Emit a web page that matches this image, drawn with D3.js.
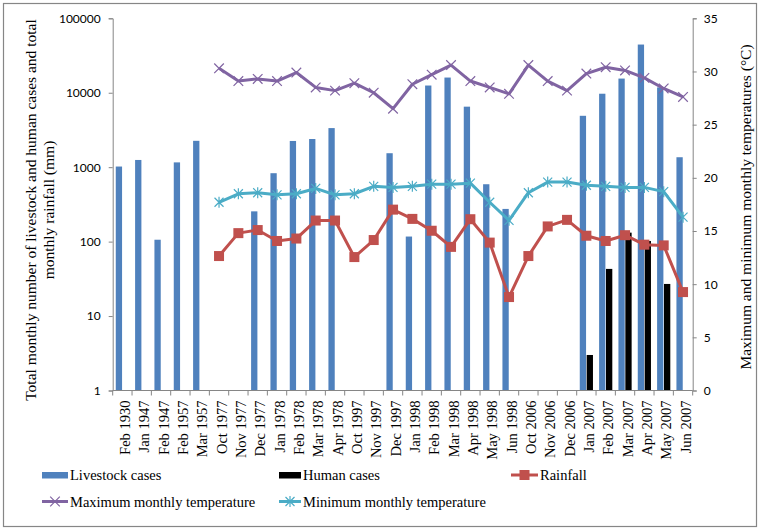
<!DOCTYPE html>
<html>
<head>
<meta charset="utf-8">
<script src="https://cdn.jsdelivr.net/npm/d3@7"></script>
<style>
  html, body { margin: 0; padding: 0; background: #fff; }
  svg { display: block; }
</style>
</head>
<body>
<svg id="chart" width="760" height="532"></svg>
<script>
// ---- data ----
const categories = ["Feb 1930","Jan 1947","Feb 1947","Feb 1957","Mar 1957","Oct 1977","Nov 1977","Dec 1977","Jan 1978","Feb 1978","Mar 1978","Apr 1978","Oct 1997","Nov 1997","Dec 1997","Jan 1998","Feb 1998","Mar 1998","Apr 1998","May 1998","Jun 1998","Oct 2006","Nov 2006","Dec 2006","Jan 2007","Feb 2007","Mar 2007","Apr 2007","May 2007","Jun 2007"];
const livestockCases = [1020,1250,106,1160,2260,null,null,255,830,2250,2390,3350,null,null,1540,117,12500,16000,6500,590,275,null,null,null,4900,9700,15500,44400,11800,1360];
const humanCases = [null,null,null,null,null,null,null,null,null,null,null,null,null,null,null,null,null,null,null,null,null,null,null,null,3,43,132,102,27,null];
const rainfall = [null,null,null,null,null,64,130,143,102,110,192,192,62,105,269,202,140,85,200,97,18,64,160,196,120,102,122,91,89,21];
const maxTemp = [null,null,null,null,null,30.3,29.1,29.3,29.1,29.9,28.5,28.2,28.9,28.0,26.5,28.8,29.7,30.6,29.1,28.5,27.9,30.6,29.1,28.2,29.8,30.4,30.1,29.4,28.4,27.6];
const minTemp = [null,null,null,null,null,17.7,18.5,18.6,18.4,18.5,19.0,18.4,18.5,19.2,19.1,19.2,19.4,19.4,19.5,17.7,16.0,18.6,19.6,19.6,19.3,19.2,19.1,19.1,18.7,16.3];
const leftTicks = [1,10,100,1000,10000,100000];
const rightTicks = [0,5,10,15,20,25,30,35];

// ---- layout ----
const svg = d3.select("#chart");
const L = 112.7, R = 692.7, T = 18.3, B = 390.5;
const axisColor = "#868686";
const tickFont = "Lato, 'Open Sans', sans-serif";
const serif = "'Liberation Serif', 'Times New Roman', Times, serif";

const x = d3.scaleBand().domain(categories).range([L, R]).padding(0);
const sub = d3.scaleBand().domain(["livestock","human"]).range([-6.6, 6.6]).padding(0);
const yL = d3.scaleLog().domain([1, 100000]).range([B, T]);
const yR = d3.scaleLinear().domain([0, 35]).range([B, T]);
const cx = c => x(c) + x.bandwidth() / 2;

// outer frame
svg.append("rect").attr("x", 3.5).attr("y", 3.5).attr("width", 753).attr("height", 523)
  .attr("fill", "none").attr("stroke", "#868686").attr("stroke-width", 1.2);

// bars
const bars = svg.append("g");
bars.selectAll("rect.live").data(categories.map((c, i) => ({c, v: livestockCases[i]})).filter(d => d.v != null))
  .join("rect").attr("class", "live")
  .attr("x", d => cx(d.c) + sub("livestock"))
  .attr("width", sub.bandwidth() - 0.3)
  .attr("y", d => yL(d.v))
  .attr("height", d => B - yL(d.v))
  .attr("fill", "#4F81BD");
bars.selectAll("rect.hum").data(categories.map((c, i) => ({c, v: humanCases[i]})).filter(d => d.v != null))
  .join("rect").attr("class", "hum")
  .attr("x", d => cx(d.c) + sub("human") + 0.3)
  .attr("width", sub.bandwidth() - 0.3)
  .attr("y", d => yL(d.v))
  .attr("height", d => B - yL(d.v))
  .attr("fill", "#000");

// axes
const gL = svg.append("g").attr("transform", `translate(${L},0)`)
  .call(d3.axisLeft(yL).tickValues(leftTicks).tickFormat(d3.format("d")).tickSizeOuter(0).tickSize(4).tickPadding(8));
const gR = svg.append("g").attr("transform", `translate(${R},0)`)
  .call(d3.axisRight(yR).tickValues(rightTicks).tickSizeOuter(0).tickSize(4).tickPadding(7));
[gL, gR].forEach(g => {
  g.select(".domain").attr("stroke", axisColor);
  g.selectAll(".tick line").attr("stroke", axisColor);
  g.selectAll(".tick text").attr("font-family", tickFont).attr("font-size", 12).attr("fill", "#000");
});

// bottom axis
const gB = svg.append("g");
gB.append("line").attr("x1", L).attr("x2", R).attr("y1", B).attr("y2", B).attr("stroke", axisColor);
const edges = categories.map(c => x(c)).concat([R]);
gB.selectAll("line.t").data(edges).join("line").attr("class", "t")
  .attr("x1", d => d).attr("x2", d => d).attr("y1", B).attr("y2", B + 5).attr("stroke", axisColor);
gB.selectAll("text").data(categories).join("text")
  .attr("transform", d => `translate(${cx(d) + 2.5},${B + 10}) rotate(-90)`)
  .attr("text-anchor", "end").attr("dominant-baseline", "central")
  .attr("font-family", serif).attr("font-size", 14.5).attr("fill", "#000")
  .text(d => d);

// lines
function drawLine(values, scale, color, marker) {
  const data = categories.map((c, i) => ({c, v: values[i]}));
  const line = d3.line().defined(d => d.v != null).x(d => cx(d.c)).y(d => scale(d.v));
  svg.append("path").datum(data).attr("d", line).attr("fill", "none")
    .attr("stroke", color).attr("stroke-width", 3).attr("stroke-linejoin", "round");
  const pts = data.filter(d => d.v != null);
  const g = svg.append("g");
  pts.forEach(d => marker(g, cx(d.c), scale(d.v), color));
}
function squareMarker(g, px, py, color) {
  g.append("rect").attr("x", px - 5).attr("y", py - 5).attr("width", 10).attr("height", 10).attr("fill", color);
}
function xMarker(g, px, py, color) {
  const s = 4.8;
  g.append("path").attr("d", `M${px-s},${py-s}L${px+s},${py+s}M${px-s},${py+s}L${px+s},${py-s}`)
    .attr("stroke", color).attr("stroke-width", 1.2).attr("fill", "none");
}
function starMarker(g, px, py, color) {
  const s = 4.5;
  g.append("path").attr("d", `M${px-s},${py-s}L${px+s},${py+s}M${px-s},${py+s}L${px+s},${py-s}M${px},${py-s-1}L${px},${py+s+1}`)
    .attr("stroke", color).attr("stroke-width", 1.2).attr("fill", "none");
}
drawLine(rainfall, yL, "#C0504D", squareMarker);
drawLine(maxTemp, yR, "#8064A2", xMarker);
drawLine(minTemp, yR, "#4BACC6", starMarker);

// axis titles
svg.append("text").attr("transform", "translate(30,210) rotate(-90)")
  .attr("text-anchor", "middle").attr("dominant-baseline", "central")
  .attr("font-family", serif).attr("font-size", 15.5)
  .text("Total monthly number of livestock and human cases and total");
svg.append("text").attr("transform", "translate(48.5,210) rotate(-90)")
  .attr("text-anchor", "middle").attr("dominant-baseline", "central")
  .attr("font-family", serif).attr("font-size", 15.5)
  .text("monthly rainfall (mm)");
svg.append("text").attr("transform", "translate(745,207) rotate(-90)")
  .attr("text-anchor", "middle").attr("dominant-baseline", "central")
  .attr("font-family", serif).attr("font-size", 15.5)
  .text("Maximum and minimum monthly temperatures (°C)");

// legend
const lg = svg.append("g").attr("font-family", serif).attr("font-size", 14.5);
function legendText(tx, ty, t) {
  lg.append("text").attr("x", tx).attr("y", ty).attr("dominant-baseline", "central").text(t);
}
lg.append("rect").attr("x", 42).attr("y", 472).attr("width", 26).attr("height", 6.5).attr("fill", "#4F81BD");
legendText(70, 475, "Livestock cases");
lg.append("rect").attr("x", 279).attr("y", 472).attr("width", 22).attr("height", 6.5).attr("fill", "#000");
legendText(303, 475, "Human cases");
lg.append("line").attr("x1", 511).attr("x2", 538).attr("y1", 475).attr("y2", 475).attr("stroke", "#C0504D").attr("stroke-width", 3);
squareMarker(lg, 524.5, 475, "#C0504D");
legendText(540, 475, "Rainfall");
lg.append("line").attr("x1", 42).attr("x2", 68).attr("y1", 501.5).attr("y2", 501.5).attr("stroke", "#8064A2").attr("stroke-width", 3);
xMarker(lg, 55, 501.5, "#8064A2");
legendText(70, 501.5, "Maximum monthly temperature");
lg.append("line").attr("x1", 279).attr("x2", 301).attr("y1", 501.5).attr("y2", 501.5).attr("stroke", "#4BACC6").attr("stroke-width", 3);
starMarker(lg, 290, 501.5, "#4BACC6");
legendText(303, 501.5, "Minimum monthly temperature");
</script>
</body>
</html>
